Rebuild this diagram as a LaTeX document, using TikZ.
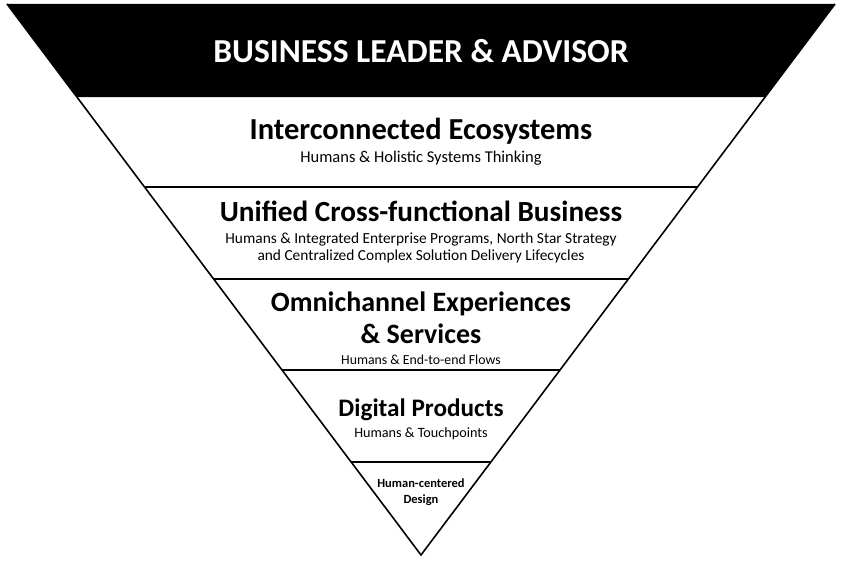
\documentclass[tikz,border=0pt]{standalone}
\usepackage{fontspec}
\setmainfont{Carlito}
\usetikzlibrary{calc}

\begin{document}
\begin{tikzpicture}[
    x=1pt, y=-1pt,
    every node/.style={align=center, inner sep=0pt},
    edge/.style={line width=1.6pt},
    title/.style={font=\bfseries\fontsize{33.5}{36}\selectfont, text=white},
    head/.style={font=\bfseries\fontsize{#1}{32}\selectfont},
    sub/.style={font=\fontsize{#1}{17}\selectfont},
    tip/.style={font=\bfseries\fontsize{12.5}{16}\selectfont}
]
    \useasboundingbox (0,0) rectangle (841,561);

    % Outline
    \coordinate (tl) at (7,4);
    \coordinate (tr) at (835,4);
    \coordinate (apex) at (421,555);

    % Band edges
    \foreach \t/\n in {0.1688/a, 0.3321/b, 0.4991/c, 0.6642/d, 0.8312/e} {
        \coordinate (l\n) at ($(tl)!\t!(apex)$);
        \coordinate (r\n) at ($(tr)!\t!(apex)$);
    }

    % Black top band
    \fill (tl) -- (tr) -- (ra) -- (la) -- cycle;
    \draw[edge, line join=miter] (tl) -- (apex) -- (tr);
    \foreach \n in {b, c, d, e}
        \draw[edge] (l\n) -- (r\n);

    % Nodes
    \node[title] (lead) at (421,51) {BUSINESS LEADER \& ADVISOR};

    \node[head=30.5] (eco) at (421,131) {Interconnected Ecosystems};
    \node[sub=16.5] (ecos) at (421,158) {Humans \& Holistic Systems Thinking};

    \node[head=29.2] (biz) at (421,211) {Unified Cross-functional Business};
    \node[sub=15.4] (bizs) at (421,247.5) {Humans \& Integrated Enterprise Programs, North Star Strategy\\and Centralized Complex Solution Delivery Lifecycles};

    \node[head=28] (omni) at (421,318) {Omnichannel Experiences\\\& Services};
    \node[sub=13.8] (omnis) at (421,360) {Humans \& End-to-end Flows};

    \node[head=25.2] (dig) at (421,409.5) {Digital Products};
    \node[sub=14.2] (digs) at (421,434) {Humans \& Touchpoints};

    \node[tip] (hcd) at (421,492) {Human-centered\\Design};

\end{tikzpicture}
\end{document}
